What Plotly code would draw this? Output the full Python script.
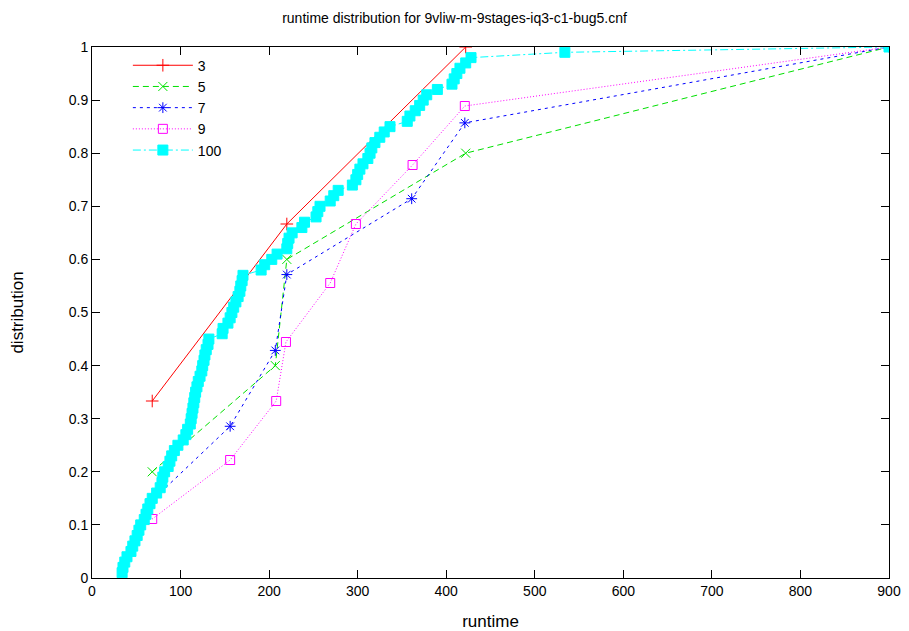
import plotly.graph_objects as go

# ---- data ----
x3 = [68, 220, 422]
y3 = [1/3, 2/3, 1.0]

x5 = [68, 207, 220, 422, 900]
y5 = [0.2, 0.4, 0.6, 0.8, 1.0]

x7 = [66, 156, 207, 220, 361, 421, 900]
y7 = [k/7 for k in range(1, 8)]

x9 = [68, 156, 208, 219, 269, 298, 362, 421, 900]
y9 = [k/9 for k in range(1, 10)]

x100 = [34, 35, 37, 39.5, 44, 46, 48.5, 51, 53, 55,
        59, 61, 63, 65.5, 68, 73, 77, 79, 80, 82,
        86, 88, 90, 93, 97, 103, 106, 108, 111, 112,
        113, 114, 115, 116, 117, 118.5, 120, 122, 124, 125,
        126.5, 127.5, 129, 131, 132, 147, 148, 153.5, 156, 158,
        160, 162.5, 165, 167, 168, 169.5, 170.5, 191, 195, 203,
        209, 220, 221, 222.5, 226, 237, 240, 253, 255, 257.5,
        269, 273, 278, 294, 298, 300, 302.5, 306, 311.5, 314,
        316, 319.5, 325, 330, 336.5, 356, 359, 365, 370, 374,
        378, 390, 406.5, 409, 412, 415.5, 422, 428, 534, 900]
y100 = [k/100 for k in range(1, 101)]

names = ["3", "5", "7", "9", "100"]
xs = [x3, x5, x7, x9, x100]
ys = [y3, y5, y7, y9, y100]
colors = ["#ff0000", "#00e000", "#0000ff", "#ff00ff", "#00ffff"]
dashes = ["solid", "6px,4px", "3px,4px", "1px,2px", "8px,3px,2px,3px"]
symbols = ["cross-thin", "x-thin", "asterisk", "square-open", "square"]
sizes = [9, 9, 9, 9, 10]

xticks = list(range(0, 1000, 100))
yticks = [round(0.1 * i, 1) for i in range(11)]
yticktext = ["0", "0.1", "0.2", "0.3", "0.4", "0.5", "0.6", "0.7", "0.8", "0.9", "1"]

fig = go.Figure()
for n, x, y, c, d, s, sz in zip(names, xs, ys, colors, dashes, symbols, sizes):
    fig.add_trace(go.Scatter(
        x=x, y=y, name=n, mode="lines+markers",
        line=dict(color=c, width=1, dash=d),
        marker=dict(symbol=s, size=sz, color=c, line=dict(color=c, width=1)),
    ))

fig.update_layout(
    width=909, height=631,
    paper_bgcolor="white", plot_bgcolor="white",
    margin=dict(l=92, r=20, t=47, b=53, autoexpand=False),
    font=dict(family="Liberation Sans, Arial, sans-serif", size=14, color="black"),
    title=dict(text="runtime distribution for 9vliw-m-9stages-iq3-c1-bug5.cnf",
               x=0.5, xanchor="center", y=0.971, yanchor="middle",
               font=dict(size=14)),
    showlegend=True,
    legend=dict(x=0.045, y=0.995, xanchor="left", yanchor="top",
                bgcolor="rgba(0,0,0,0)", borderwidth=0,
                font=dict(size=14), tracegroupgap=0, itemwidth=60),
)
fig.update_xaxes(
    range=[0, 900], tickvals=xticks, showgrid=False, zeroline=False,
    showline=True, linecolor="black", linewidth=1, mirror="ticks",
    ticks="inside", ticklen=8, tickcolor="black", automargin=False,
    title=dict(text="runtime", standoff=20),
)
fig.update_yaxes(
    range=[0, 1], tickvals=yticks, ticktext=yticktext, showgrid=False, zeroline=False,
    showline=True, linecolor="black", linewidth=1, mirror="ticks",
    ticks="inside", ticklen=8, tickcolor="black", automargin=False,
    title=dict(text="distribution", standoff=40),
)

fig.write_html("out.html", config={"displayModeBar": False},
               post_script="document.body.style.margin='0px';document.body.style.overflow='hidden';")
